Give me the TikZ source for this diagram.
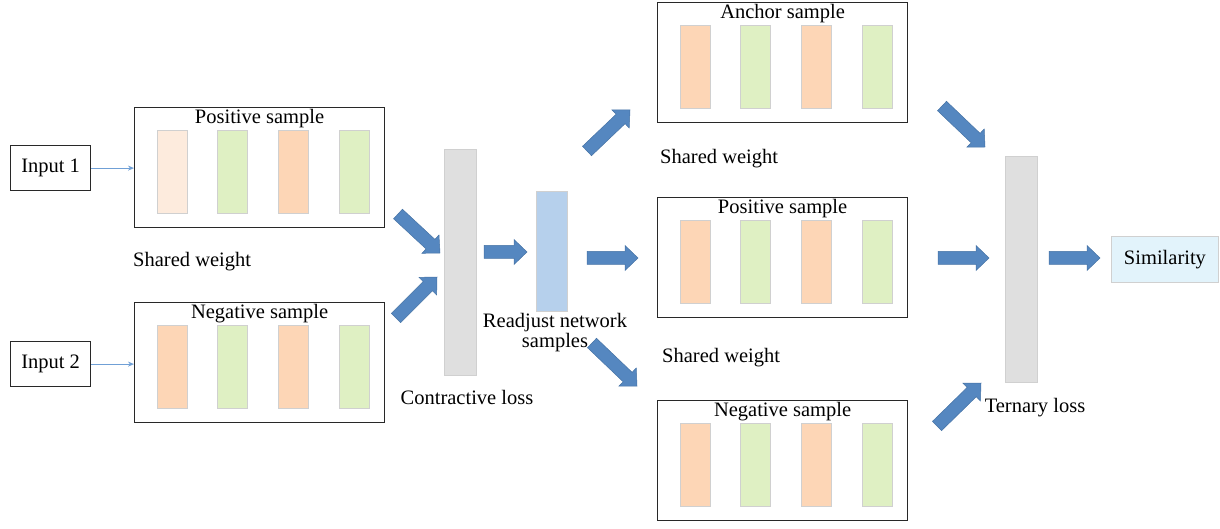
\documentclass[tikz,border=0pt]{standalone}
\usepackage{fontspec}
\setmainfont{Liberation Serif}
\usetikzlibrary{calc,arrows.meta}

\definecolor{peach}{RGB}{253,214,182}
\definecolor{palepeach}{RGB}{253,235,221}
\definecolor{lime}{RGB}{223,240,195}
\definecolor{barline}{RGB}{208,208,208}
\definecolor{lossgray}{RGB}{223,223,223}
\definecolor{midblue}{RGB}{182,208,236}
\definecolor{fatblue}{RGB}{85,135,192}
\definecolor{fatedge}{RGB}{70,115,165}
\definecolor{thinblue}{RGB}{112,160,214}
\definecolor{simfill}{RGB}{226,243,251}
\definecolor{frame}{RGB}{40,40,40}

\tikzset{
  lbl/.style={font=\fontsize{20.5}{20}\selectfont, inner sep=0pt},
  framebox/.style={draw=frame, line width=1.2pt, minimum width=250pt,
    minimum height=120pt, anchor=north west, inner sep=0pt},
  bar/.style={draw=barline, line width=0.9pt, minimum width=30pt,
    minimum height=83pt, anchor=north west, inner sep=0pt},
  inbox/.style={draw=frame, line width=1.2pt, minimum width=80pt,
    minimum height=45pt, inner sep=0pt, font=\fontsize{20.5}{20}\selectfont},
  lossbar/.style={draw=barline, line width=0.9pt, fill=lossgray,
    minimum width=32pt, minimum height=226pt, anchor=north west, inner sep=0pt},
  fat/.style={fill=fatblue, draw=fatedge, line width=0.5pt, line join=miter},
  thinarrow/.style={draw=thinblue, line width=0.9pt,
    -{Stealth[length=6pt,width=5pt]}},
}

% fat block arrow from one named coordinate to another
% (shaft 13pt wide, head 25pt wide and 13pt long)
\newcommand\fatarrow[2]{%
  \draw[fat] ($(#1)!6.5pt!90:(#2)$)
    -- ($(#2)!13pt!(#1)!6.5pt!90:(#2)$)
    -- ($(#2)!13pt!(#1)!12.5pt!90:(#2)$)
    -- (#2)
    -- ($(#2)!13pt!(#1)!12.5pt!-90:(#2)$)
    -- ($(#2)!13pt!(#1)!6.5pt!-90:(#2)$)
    -- ($(#1)!6.5pt!-90:(#2)$) -- cycle;}

% framed sample with four feature bars: name, x, y, title, first bar colour
\newcommand\samplebox[5]{%
  \node[framebox] (#1) at (#2,#3) {};
  \node[lbl] (#1t) at ($(#1.north)+(0,-12pt)$) {#4};
  \node[bar, fill=#5] (#1a) at ($(#1.north west)+(23pt,-23pt)$) {};
  \node[bar, fill=lime] (#1b) at ($(#1.north west)+(83pt,-23pt)$) {};
  \node[bar, fill=peach] (#1c) at ($(#1.north west)+(144pt,-23pt)$) {};
  \node[bar, fill=lime] (#1d) at ($(#1.north west)+(205pt,-23pt)$) {};}

\begin{document}
\begin{tikzpicture}[x=1pt,y=-1pt]
\useasboundingbox (0,0) rectangle (1220,529);

% inputs and the first pair of samples
\node[inbox, anchor=north west] (in1) at (10,145) {Input 1};
\node[inbox, anchor=north west] (in2) at (10,341) {Input 2};
\samplebox{lpos}{134}{107}{Positive sample}{palepeach}
\samplebox{lneg}{134}{302}{Negative sample}{peach}
\draw[thinarrow] (in1.east) -- (in1.east -| lpos.west);
\draw[thinarrow] (in2.east) -- (in2.east -| lneg.west);
\node[lbl, anchor=west] (sw1) at (133,262) {Shared weight};

% contrastive stage
\node[lossbar] (closs) at (444,149) {};
\node[lbl] (clab) at (467,397) {Contractive loss};
\node[draw=barline, line width=0.9pt, fill=midblue, minimum width=31pt,
  minimum height=120pt, anchor=north west, inner sep=0pt] (adj) at (536,191) {};
\node[lbl, align=center] (adjlab) at (555,333) {Readjust network\\samples};

% triplet samples
\samplebox{anc}{657}{2}{Anchor sample}{peach}
\samplebox{rpos}{657}{197}{Positive sample}{peach}
\samplebox{rneg}{657}{400}{Negative sample}{peach}
\node[lbl, anchor=west] (sw2) at (660,159) {Shared weight};
\node[lbl, anchor=west] (sw3) at (662,358) {Shared weight};

% triplet loss and output
\node[lossbar] (tloss) at (1005,156) {};
\node[lbl] (tlab) at (1035,408) {Ternary loss};
\node[draw=barline, line width=0.9pt, fill=simfill, minimum width=107pt,
  minimum height=46pt, anchor=north west, inner sep=0pt] (sim) at (1111,236) {};
\node[lbl] (simlab) at (sim.center) {Similarity};

% block arrows between named end points
\coordinate (a1s) at (398,214); \coordinate (a1e) at (440,253);
\coordinate (a2s) at (396,318); \coordinate (a2e) at (437,277);
\coordinate (a3s) at (484,252); \coordinate (a3e) at (527,252);
\coordinate (a4s) at (587,258); \coordinate (a4e) at (638,258);
\coordinate (a5s) at (587,151); \coordinate (a5e) at (630,110);
\coordinate (a6s) at (592,343); \coordinate (a6e) at (637,386);
\coordinate (a7s) at (942,106); \coordinate (a7e) at (985,147);
\coordinate (a8s) at (938,258); \coordinate (a8e) at (989,258);
\coordinate (a9s) at (937,426); \coordinate (a9e) at (981,383);
\coordinate (a10s) at (1049,258); \coordinate (a10e) at (1100,258);
\fatarrow{a1s}{a1e}
\fatarrow{a2s}{a2e}
\fatarrow{a3s}{a3e}
\fatarrow{a4s}{a4e}
\fatarrow{a5s}{a5e}
\fatarrow{a6s}{a6e}
\fatarrow{a7s}{a7e}
\fatarrow{a8s}{a8e}
\fatarrow{a9s}{a9e}
\fatarrow{a10s}{a10e}
\end{tikzpicture}
\end{document}
